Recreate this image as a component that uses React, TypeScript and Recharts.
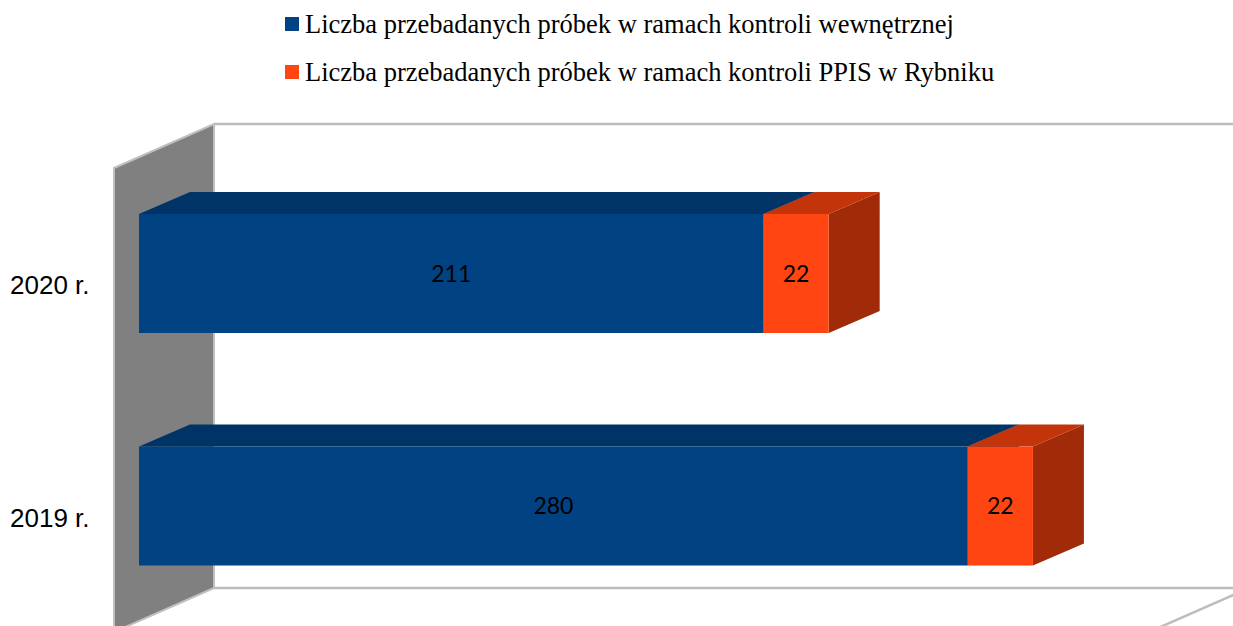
import React from "react"
import { BarChart, Bar, XAxis, YAxis, Legend, ReferenceArea, LabelList } from "recharts"

const years = ["2020 r.", "2019 r."]
const internalSamples = [211, 280]
const ppisSamples = [22, 22]
const seriesNames = [
  "Liczba przebadanych próbek w ramach kontroli wewnętrznej",
  "Liczba przebadanych próbek w ramach kontroli PPIS w Rybniku",
]

const data = years.map((year, i) => ({
  year,
  internal: internalSamples[i],
  ppis: ppisSamples[i],
}))

const BLUE = { front: "#004282", top: "#003467", side: "#002c57" }
const ORANGE = { front: "#ff4511", top: "#c4340b", side: "#a12a08" }

// 3D box: front face plus top and right faces
const Box3D = (props: any) => {
  const { x, y, width, height, colors } = props
  if (!width || !height) return null
  const dx = 51
  const dy = 22
  return (
    <g>
      <polygon
        points={`${x + width},${y} ${x + width + dx},${y - dy} ${x + width + dx},${y + height - dy} ${x + width},${y + height}`}
        fill={colors.side}
      />
      <polygon
        points={`${x},${y} ${x + dx},${y - dy} ${x + width + dx},${y - dy} ${x + width},${y}`}
        fill={colors.top}
      />
      <rect x={x} y={y} width={width} height={height} fill={colors.front} />
    </g>
  )
}

// back wall, side wall and floor edge behind the bars
const Walls = (props: any) => {
  const { x, y, width, height } = props
  const bx = x + 75
  const top = y - 33
  const bottom = y + height - 34
  const right = x + width + 74
  const dx = 100
  const dy = 44
  return (
    <g>
      <rect x={bx} y={top} width={right - bx + 40} height={bottom - top} fill="#fff" />
      <line x1={bx} y1={top} x2={right + 40} y2={top} stroke="#bdbdbd" strokeWidth={2.5} />
      <line x1={bx} y1={bottom} x2={right + 40} y2={bottom} stroke="#bdbdbd" strokeWidth={2.5} />
      <line x1={right} y1={bottom} x2={right - dx} y2={bottom + dy} stroke="#bdbdbd" strokeWidth={2.5} />
      <polygon
        points={`${bx},${top} ${bx},${bottom} ${bx - dx},${bottom + dy} ${bx - dx},${top + dy}`}
        fill="#808080"
        stroke="#c0c0c0"
        strokeWidth={2}
      />
    </g>
  )
}

const YearTick = (props: any) => {
  const { y, payload } = props
  return (
    <text
      x={10}
      y={y + 12}
      dy="0.35em"
      fontFamily="'Liberation Sans', Arial, sans-serif"
      fontSize={26}
      fill="#000"
    >
      {payload.value}
    </text>
  )
}

const LegendRows = (props: any) => {
  const items = [...(props.payload || [])].sort(
    (a: any, b: any) => seriesNames.indexOf(a.value) - seriesNames.indexOf(b.value)
  )
  return (
    <div style={{ fontFamily: "'Liberation Serif', 'Times New Roman', serif", fontSize: 26.5, color: "#000" }}>
      {items.map((item: any) => (
        <div key={item.value} style={{ display: "flex", alignItems: "center", height: 48, whiteSpace: "nowrap" }}>
          <span style={{ display: "inline-block", width: 14, height: 14, background: item.color, marginRight: 6 }} />
          {item.value}
        </div>
      ))}
    </div>
  )
}

const labelProps = { position: "center" as const, fill: "#000", fontSize: 23, fontFamily: "Lato, 'Open Sans', sans-serif" }

export default function App() {
  return (
    <div style={{ position: "absolute", left: 0, top: 0, background: "#fff" }}>
      <BarChart
        width={1233}
        height={626}
        data={data}
        layout="vertical"
        margin={{ top: 157, right: 58, bottom: 4, left: 0 }}
        barSize={119}
      >
        <XAxis type="number" domain={[0, 350]} hide />
        <YAxis type="category" dataKey="year" width={139} axisLine={false} tickLine={false} tick={<YearTick />} />
        <ReferenceArea x1={0} x2={350} ifOverflow="visible" shape={<Walls />} />
        <Legend
          layout="horizontal"
          verticalAlign="middle"
          align="center"
          content={<LegendRows />}
          wrapperStyle={{ top: 0, left: 285, width: 900, height: 96 }}
        />
        <Bar
          dataKey="internal"
          name={seriesNames[0]}
          stackId="a"
          fill={BLUE.front}
          shape={(p: any) => <Box3D {...p} colors={BLUE} />}
          isAnimationActive={false}
        >
          <LabelList dataKey="internal" {...labelProps} />
        </Bar>
        <Bar
          dataKey="ppis"
          name={seriesNames[1]}
          stackId="a"
          fill={ORANGE.front}
          shape={(p: any) => <Box3D {...p} colors={ORANGE} />}
          isAnimationActive={false}
        >
          <LabelList dataKey="ppis" {...labelProps} />
        </Bar>
      </BarChart>
    </div>
  )
}
